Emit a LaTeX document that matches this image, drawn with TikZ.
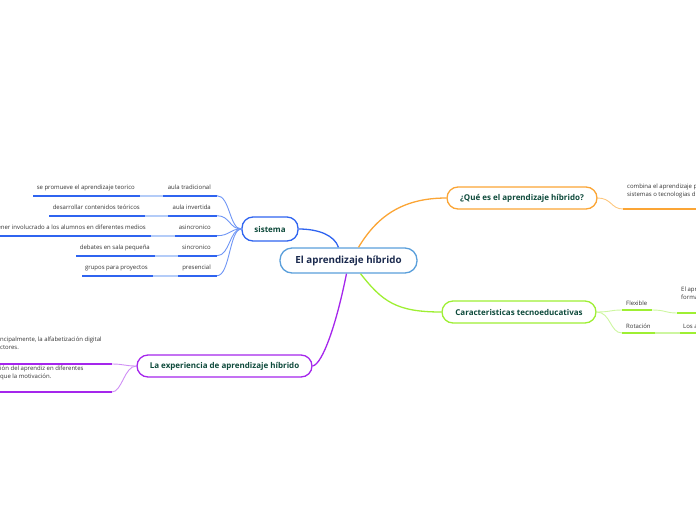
\documentclass[tikz,border=0pt]{standalone}
\usepackage{fontspec}
\setmainfont{Open Sans}
\usetikzlibrary{calc}
\definecolor{cblue}{HTML}{5A9FDB}
\definecolor{navy}{HTML}{1B2A4E}
\definecolor{dgreen}{HTML}{0E4A3B}
\definecolor{sblue}{HTML}{2F64F0}
\definecolor{sbluec}{HTML}{6E95F5}
\definecolor{sbluel}{HTML}{B4CCF8}
\definecolor{orng}{HTML}{FBA535}
\definecolor{orngl}{HTML}{FDC77E}
\definecolor{lgreen}{HTML}{9EEF33}
\definecolor{lgreenl}{HTML}{CDF6A0}
\definecolor{purp}{HTML}{A526EC}
\definecolor{purpl}{HTML}{CF8FF5}
\definecolor{tgray}{HTML}{333333}
\tikzset{
  mainnode/.style={draw, rounded corners=11pt, line width=1.3pt, fill=white,
    font=\fontsize{8}{10}\selectfont\bfseries, text=dgreen, inner sep=0pt},
  small/.style={font=\fontsize{6}{7.5}\selectfont, text=tgray, inner sep=0pt},
  under/.style={line width=2pt},
  conn/.style={line width=0.9pt},
  mainconn/.style={line width=1.3pt}
}
\begin{document}
\begin{tikzpicture}[x=1pt,y=-1pt]
\useasboundingbox (0,0) rectangle (696,520);
\clip (0,0) rectangle (696,520);

% central
\node[mainnode, draw=cblue, text=navy, font=\fontsize{9.8}{12}\selectfont\bfseries,
  minimum width=137pt, minimum height=25pt, rounded corners=12pt] (c) at (348.5,260.5) {El aprendizaje híbrido};

% main nodes
\node[mainnode, draw=sblue, minimum width=56pt, minimum height=24pt] (s) at (270,229) {sistema};
\node[mainnode, draw=orng, minimum width=150pt, minimum height=22pt] (q) at (522,198) {¿Qué es el aprendizaje híbrido?};
\node[mainnode, draw=lgreen, minimum width=154pt, minimum height=22pt] (k) at (519,312) {Caracteristicas tecnoeducativas};
\node[mainnode, draw=purp, minimum width=175pt, minimum height=22pt] (e) at (224.5,366) {La experiencia de aprendizaje híbrido};

% main connectors
\draw[mainconn, sblue] (s.east) .. controls +(20,0) and +(-4,-12) .. ($(c.north)+(-10,0)$);
\draw[mainconn, orng] ($(c.north)+(10,0)$) .. controls +(18,-30) and +(-45,0) .. (q.west);
\draw[mainconn, lgreen] ($(c.south)+(12,0)$) .. controls +(22,28) and +(-45,0) .. (k.west);
\draw[mainconn, purp] ($(c.south)+(-2,0)$) .. controls +(-10,50) and +(10,-2) .. (e.east);

% ---------- sistema children ----------
\foreach \i/\y/\cl/\gl/\gr/\ct/\gt in {
  1/195.7/163/33/140/aula tradicional/se promueve el aprendizaje teorico,
  2/215.7/168/49/145/aula invertida/desarrollar contenidos teóricos,
  3/235.7/175/-5/151/asincronico/tener involucrado a los alumnos en diferentes medios,
  4/255.7/178/76/155/sincronico/debates en sala pequeña,
  5/275.7/178/82/153/presencial/grupos para proyectos}{
  \coordinate (sc\i r) at (217,\y);
  \coordinate (sc\i l) at (\cl,\y);
  \coordinate (sg\i r) at (\gr,\y);
  \coordinate (sg\i l) at (\gl,\y);
  \node[small, anchor=base east] (sct\i) at (211,\y-6.5) {\ct};
  \node[small, anchor=base east] (sgt\i) at (\gr-5,\y-6.5) {\gt};
  \draw[conn, sbluec] (sc\i r) .. controls +(13,0) and +(-12,0) .. (s.west);
  \draw[under, sblue] (sc\i l) -- (sc\i r);
  \draw[line width=1.6pt, sbluel] (sg\i r) -- (sc\i l);
  \draw[under, sblue] (sg\i l) -- (sg\i r);
}

% ---------- Que es child ----------
\coordinate (q1l) at (623,209);
\coordinate (q1r) at (700,209);
\draw[conn, orngl] (q.east) .. controls +(14,0) and +(-12,0) .. (q1l);
\draw[under, orng] (q1l) -- (q1r);
\node[small, anchor=base west, align=left] (q1t) at (627,196) {combina el aprendizaje p\\sistemas o tecnologias d};

% ---------- Caracteristicas children ----------
\coordinate (k1l) at (622,310);
\coordinate (k1r) at (652,310);
\coordinate (k2l) at (622,333);
\coordinate (k2r) at (655,333);
\draw[conn, lgreenl] (k.east) .. controls +(14,0) and +(-12,0) .. (k1l);
\draw[conn, lgreenl] (k.east) .. controls +(14,0) and +(-12,0) .. (k2l);
\draw[under, lgreen] (k1l) -- (k1r);
\draw[under, lgreen] (k2l) -- (k2r);
\node[small, anchor=base west] (k1t) at (626,305) {Flexible};
\node[small, anchor=base west] (k2t) at (626,328.5) {Rotación};
% grandchildren
\coordinate (k1gl) at (677,313);
\coordinate (k1gr) at (700,313);
\coordinate (k2gl) at (680,333);
\coordinate (k2gr) at (700,333);
\draw[conn, lgreenl] (k1r) .. controls +(14,0) and +(-12,0) .. (k1gl);
\draw[line width=1.6pt, lgreenl] (k2r) -- (k2gl);
\draw[under, lgreen] (k1gl) -- (k1gr);
\draw[under, lgreen] (k2gl) -- (k2gr);
\node[small, anchor=base west, align=left] (k1g) at (681,299) {El apr\\forma};
\node[small, anchor=base west] (k2g) at (683,328.5) {Los a};

% ---------- Experiencia children ----------
\coordinate (e1r) at (112,364);
\coordinate (e1l) at (-5,364);
\coordinate (e2r) at (112,392);
\coordinate (e2l) at (-5,392);
\draw[conn, purpl] (e1r) .. controls +(12,0) and +(-12,0) .. (e.west);
\draw[conn, purpl] (e2r) .. controls +(10,0) and +(-12,0) .. (e.west);
\draw[under, purp] (e1l) -- (e1r);
\draw[under, purp] (e2l) -- (e2r);
\node[small, anchor=base west, align=left] (e1t) at (0,349) {ncipalmente, la alfabetización digital\\ctores.};
\node[small, anchor=base west, align=left] (e2t) at (0,378) {ión del aprendiz en diferentes\\ que la motivación.};
\end{tikzpicture}
\end{document}
